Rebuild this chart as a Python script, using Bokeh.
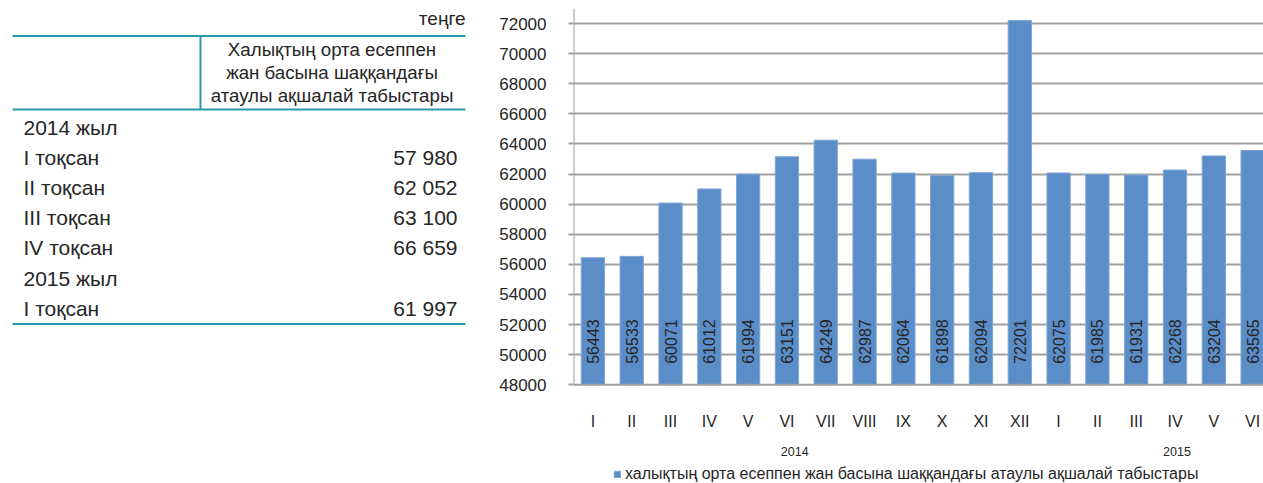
import math
from bokeh.plotting import figure
from bokeh.layouts import row
from bokeh.models import Range1d, FixedTicker, Legend, LegendItem, ColumnDataSource
from bokeh.core.properties import value
from bokeh.embed import file_html
from bokeh.resources import INLINE

# ---------------- data ----------------
unit_label = "теңге"
table_header = ["Халықтың орта есеппен", "жан басына шаққандағы", "атаулы ақшалай табыстары"]
table_labels = ["2014 жыл", "I тоқсан", "II тоқсан", "III тоқсан", "IV тоқсан", "2015 жыл", "I тоқсан"]
table_values = ["", "57 980", "62 052", "63 100", "66 659", "", "61 997"]

months = ["I", "II", "III", "IV", "V", "VI", "VII", "VIII", "IX", "X", "XI", "XII",
          "I", "II", "III", "IV", "V", "VI"]
incomes = [56443, 56533, 60071, 61012, 61994, 63151, 64249, 62987, 62064, 61898,
           62094, 72201, 62075, 61985, 61931, 62268, 63204, 63565]
years = ["2014", "2015"]
series_name = "халықтың орта есеппен жан басына шаққандағы атаулы ақшалай табыстары"

FONT = "Liberation Sans"
TEXT = "#262626"
TEAL = "#2a9aa8"
GRAY = "#a0a0a0"
BAR = "#5b8dc9"

# ---------------- table (left) ----------------
TW, H = 478, 483
TOP = 8
t = figure(width=TW, height=H, x_range=Range1d(0, TW), y_range=Range1d(H, TOP),
           output_backend="svg", toolbar_location=None,
           min_border_left=0, min_border_right=0, min_border_top=TOP, min_border_bottom=0,
           x_axis_location=None, y_axis_location=None)
t.grid.visible = False
t.outline_line_color = None

left_x, right_x, div_x = 12, 465, 200
t.text(x=[right_x], y=[18], text=[unit_label], text_font=value(FONT), text_font_size="19px",
       text_align="right", text_baseline="middle", text_color=TEXT)
t.segment(x0=[left_x, left_x, left_x], x1=[right_x, right_x, right_x],
          y0=[35.5, 109, 323.5], y1=[35.5, 109, 323.5], line_color=TEAL, line_width=2)
t.segment(x0=[div_x], x1=[div_x], y0=[36], y1=[109], line_color=TEAL, line_width=2)
hdr_y = [49 + 23 * i for i in range(len(table_header))]
t.text(x=[(div_x + right_x) / 2 - 1] * len(table_header), y=hdr_y, text=table_header,
       text_font=value(FONT), text_font_size="18.7px", text_align="center",
       text_baseline="middle", text_color=TEXT)
row_y = [126.5 + 30.2 * i for i in range(len(table_labels))]
t.text(x=[23] * len(table_labels), y=row_y, text=table_labels, text_font=value(FONT),
       text_font_size="21px", text_align="left", text_baseline="middle", text_color=TEXT)
t.text(x=[457] * len(table_values), y=row_y, text=table_values, text_font=value(FONT),
       text_font_size="21px", text_align="right", text_baseline="middle", text_color=TEXT)

# ---------------- chart (right) ----------------
CW = 1263 - TW
Y0, Y1 = 48000, 73000
FRAME_TOP = 8                               # px from figure top to value 73000
PX_PER_UNIT = (384.3 - FRAME_TOP) / (Y1 - Y0)
y_start = Y1 - (H - FRAME_TOP) / PX_PER_UNIT

idx = list(range(len(months)))
src = ColumnDataSource(dict(x=idx, top=incomes, lab=[str(v) for v in incomes],
                            base=[Y0] * len(incomes), mon=months))

p = figure(width=CW, height=H, x_range=Range1d(-0.5, 17.28), y_range=Range1d(y_start, Y1),
           output_backend="svg", toolbar_location=None, x_axis_location=None,
           min_border_left=95, min_border_right=0, min_border_top=FRAME_TOP,
           min_border_bottom=0)
p.outline_line_color = None
p.xgrid.visible = False
p.ygrid.grid_line_color = GRAY
p.ygrid.grid_line_width = 2
p.ygrid.ticker = FixedTicker(ticks=list(range(50000, 72001, 2000)))

bars = p.vbar(x="x", top="top", bottom=Y0, width=0.6, source=src,
              fill_color=BAR, line_color="#7fa6d6", line_width=1)
# axis lines (category axis at baseline, value axis from baseline to top)
p.segment(x0=[-0.5], x1=[17.28], y0=[Y0], y1=[Y0], line_color=GRAY, line_width=2)
p.segment(x0=[-0.5], x1=[-0.5], y0=[Y0], y1=[Y1], line_color=GRAY, line_width=2)

p.text(x="x", y="base", text="lab", source=src, angle=math.pi / 2, y_offset=-21,
       text_font=value(FONT), text_font_size="16px", text_align="left",
       text_baseline="middle", text_color=TEXT)
# category labels under the axis
p.text(x="x", y="base", text="mon", source=src, y_offset=37,
       text_font=value(FONT), text_font_size="16px", text_align="center",
       text_baseline="middle", text_color=TEXT)
year_pos = [5.2, 15.05]
p.text(x=year_pos, y=[Y0] * len(years), text=years, y_offset=67,
       text_font=value(FONT), text_font_size="12.5px", text_align="center",
       text_baseline="middle", text_color=TEXT)

ya = p.yaxis[0]
ya.ticker = FixedTicker(ticks=list(range(48000, 72001, 2000)))
ya.axis_line_color = None
ya.major_tick_line_color = GRAY
ya.major_tick_line_width = 2
ya.major_tick_out = 5
ya.major_tick_in = 0
ya.minor_tick_line_color = None
ya.major_label_standoff = 22
ya.major_label_text_font = FONT
ya.major_label_text_font_size = "17px"
ya.major_label_text_color = TEXT

legend = Legend(items=[LegendItem(label=series_name, renderers=[bars])],
                location=(40, 0), orientation="horizontal")
legend.border_line_color = None
legend.background_fill_alpha = 0
legend.label_text_font = FONT
legend.label_text_font_size = "16px"
legend.label_text_color = TEXT
legend.glyph_width = 8
legend.glyph_height = 8
legend.label_standoff = 4
legend.padding = 0
legend.margin = 0
legend.spacing = 0
legend.label_height = 16
p.add_layout(legend)

layout = row(t, p)
open("out.html", "w").write(file_html(layout, INLINE))
